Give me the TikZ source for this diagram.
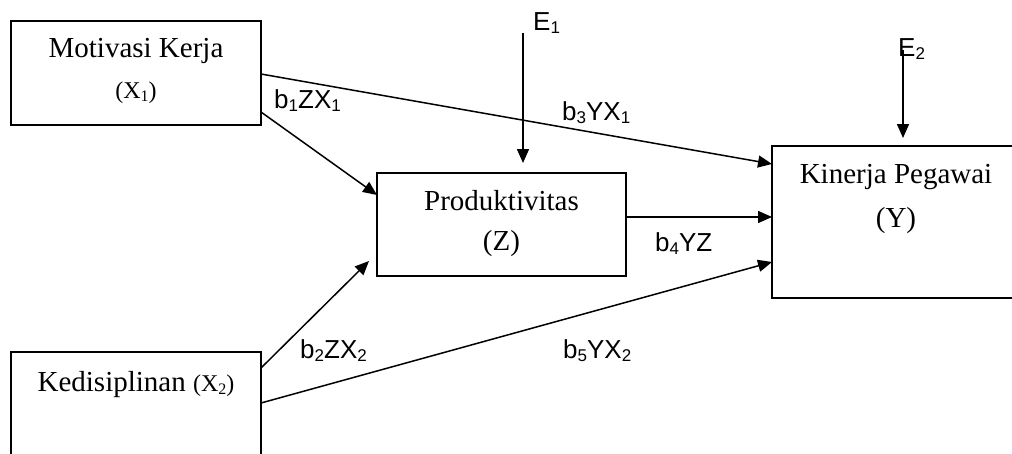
\documentclass[tikz,border=0pt]{standalone}
\usepackage{fontspec}
\setmainfont{Liberation Serif}
\newfontfamily\arialf{Liberation Sans}
\usetikzlibrary{arrows.meta}
\newcommand\sbs[2]{\raisebox{-3pt}{\fontsize{#1}{#1}\selectfont #2}}
\begin{document}
\begin{tikzpicture}[x=1pt,y=-1pt,
  box/.style={draw, line width=1.5pt, inner sep=0pt, outer sep=0pt},
  conn/.style={line width=1.5pt, -{Triangle[length=14pt,width=12pt]}},
  ttext/.style={font=\fontsize{29}{34}\selectfont, inner sep=0pt, anchor=base},
  stext/.style={font=\fontsize{24}{28}\selectfont, inner sep=0pt, anchor=base},
  lab/.style={font=\arialf\fontsize{26}{30}\selectfont, inner sep=0pt, anchor=base west}]
\useasboundingbox (0,0) rectangle (1012,453);
\clip (0,0) rectangle (1012,453);
% boxes
\node[box, minimum width=250pt, minimum height=104pt] (x1) at (136,73) {};
\node[box, minimum width=250pt, minimum height=128pt] (x2) at (136,416) {};
\node[box, minimum width=249pt, minimum height=103pt] (z) at (501.5,224.5) {};
\node[box, minimum width=258pt, minimum height=152pt] (y) at (901,222) {};
% box texts
\node[ttext] (t1) at (136,57) {Motivasi Kerja};
\node[stext] (t1b) at (136,98) {(X\sbs{16}{1})};
\node[ttext] (t2) at (136,391) {Kedisiplinan {\fontsize{24}{28}\selectfont(X\sbs{16}{2})}};
\node[ttext] (t3) at (501.5,210) {Produktivitas};
\node[ttext] (t3b) at (501.5,250) {(Z)};
\node[ttext] (t4) at (896,183) {Kinerja Pegawai};
\node[ttext] (t4b) at (896,227) {(Y)};
% labels
\node[lab] (l1) at (274,108) {b\sbs{17}{1}ZX\sbs{17}{1}};
\node[lab] (l3) at (562,120) {b\sbs{17}{3}YX\sbs{17}{1}};
\node[lab] (l4) at (655,251) {b\sbs{17}{4}YZ};
\node[lab] (l2) at (300,358) {b\sbs{17}{2}ZX\sbs{17}{2}};
\node[lab] (l5) at (563,358) {b\sbs{17}{5}YX\sbs{17}{2}};
\node[lab] (e1) at (533,30) {E\sbs{17}{1}};
\node[lab] (e2) at (898,56) {E\sbs{17}{2}};
% error term arrows
\coordinate (e1s) at (523,33);
\coordinate (e1e) at (523,163);
\coordinate (e2s) at (903,50);
\coordinate (e2e) at (903,138);
\draw[conn] (e1s) -- (e1e);
\draw[conn] (e2s) -- (e2e);
% paths
\draw[conn] (x1.east |- 0,74) -- (y.west |- 0,164);
\draw[conn] (x1.east |- 0,112) -- (z.west |- 0,195);
\draw[conn] (z.east |- 0,217) -- (y.west |- 0,217);
\draw[conn] (x2.east |- 0,368) -- ([shift={(-8pt,15pt)}]z.south west);
\draw[conn] (x2.east |- 0,403) -- (y.west |- 0,262);
\end{tikzpicture}
\end{document}
